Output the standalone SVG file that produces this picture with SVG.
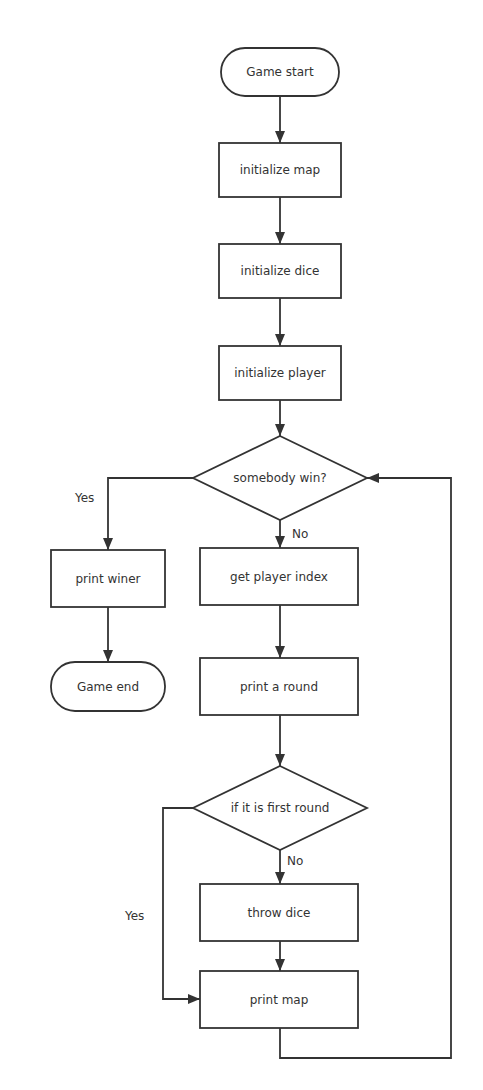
<svg xmlns="http://www.w3.org/2000/svg" width="483" height="1090" viewBox="0 0 483 1090">
<defs>
<marker id="ah" viewBox="0 0 12 10" refX="12" refY="5" markerWidth="12" markerHeight="10" markerUnits="userSpaceOnUse" orient="auto">
<path d="M0,0 L12,5 L0,10 Z" fill="#333"/>
</marker>
<style>
.n{fill:#fff;stroke:#333;stroke-width:1.8}
.t{font-family:"DejaVu Sans",sans-serif;font-size:12px;fill:#333;text-anchor:middle;dominant-baseline:central}
.l{font-family:"DejaVu Sans",sans-serif;font-size:12px;fill:#333;dominant-baseline:central}
.c{fill:none;stroke:#333;stroke-width:1.8;marker-end:url(#ah)}
</style>
</defs>
<rect width="483" height="1090" fill="#fff"/>
<g id="connectors">
<path class="c" d="M280,96 V143"/>
<path class="c" d="M280,197 V244"/>
<path class="c" d="M280,298 V346"/>
<path class="c" d="M280,400 V436"/>
<path class="c" d="M193,478 H108 V550"/>
<path class="c" d="M280,520 V548"/>
<path class="c" d="M108,607 V662"/>
<path class="c" d="M280,605 V658"/>
<path class="c" d="M280,715 V766"/>
<path class="c" d="M280,850 V884"/>
<path class="c" d="M280,941 V971"/>
<path class="c" d="M193,808 H163 V999 H200"/>
<path class="c" d="M280,1028 V1058 H451 V478 H367"/>
<text class="l" x="75" y="498">Yes</text>
<text class="l" x="292" y="534">No</text>
<text class="l" x="287" y="861">No</text>
<text class="l" x="125" y="916">Yes</text>
</g>
<g id="start"><rect class="n" x="221" y="48" width="118" height="48" rx="24"/><text class="t" x="280" y="72">Game start</text></g>
<g id="initmap"><rect class="n" x="219" y="143" width="122" height="54"/><text class="t" x="280" y="170">initialize map</text></g>
<g id="initdice"><rect class="n" x="219" y="244" width="122" height="54"/><text class="t" x="280" y="271">initialize dice</text></g>
<g id="initplayer"><rect class="n" x="219" y="346" width="122" height="54"/><text class="t" x="280" y="373">initialize player</text></g>
<g id="win"><path class="n" d="M280,436 L367,478 L280,520 L193,478 Z"/><text class="t" x="280" y="478">somebody win?</text></g>
<g id="printwiner"><rect class="n" x="51" y="550" width="114" height="57"/><text class="t" x="108" y="579">print winer</text></g>
<g id="end"><rect class="n" x="51" y="662" width="114" height="49" rx="24"/><text class="t" x="108" y="687">Game end</text></g>
<g id="getindex"><rect class="n" x="200" y="548" width="158" height="57"/><text class="t" x="279" y="577">get player index</text></g>
<g id="printround"><rect class="n" x="200" y="658" width="158" height="57"/><text class="t" x="279" y="687">print a round</text></g>
<g id="first"><path class="n" d="M280,766 L367,808 L280,850 L193,808 Z"/><text class="t" x="280" y="808">if it is first round</text></g>
<g id="throw"><rect class="n" x="200" y="884" width="158" height="57"/><text class="t" x="279" y="913">throw dice</text></g>
<g id="printmap"><rect class="n" x="200" y="971" width="158" height="57"/><text class="t" x="279" y="1000">print map</text></g>
</svg>
